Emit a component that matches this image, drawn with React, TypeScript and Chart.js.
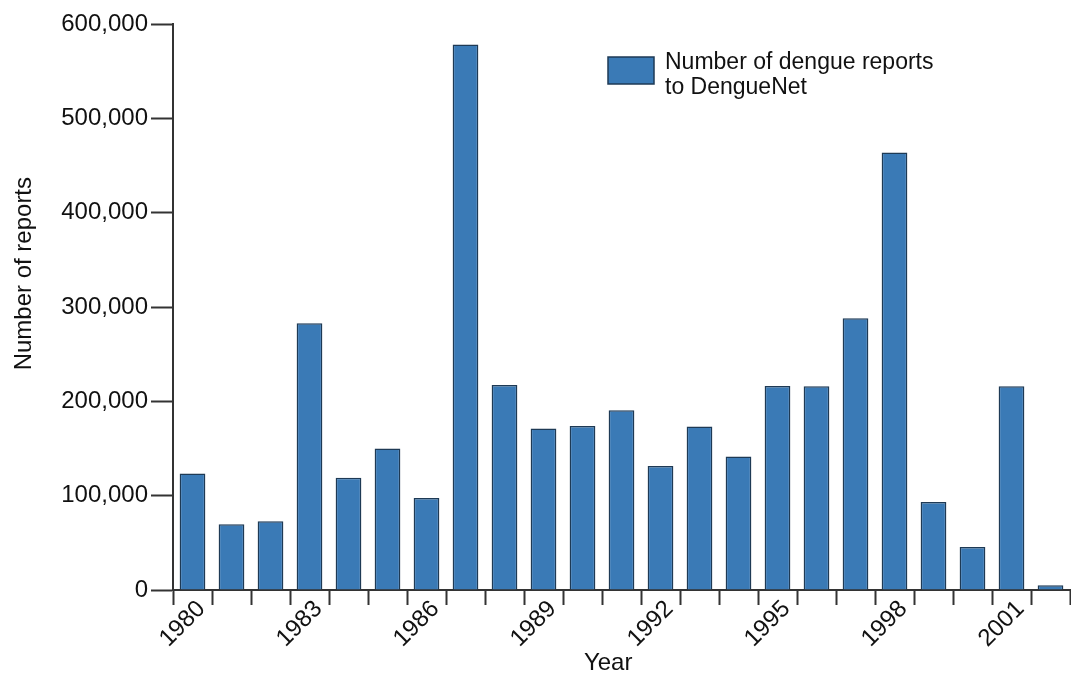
import React, { useEffect, useRef } from "react";
import { Chart, registerables } from "chart.js";

Chart.register(...registerables);

const years: string[] = [
  "1980", "1981", "1982", "1983", "1984", "1985", "1986", "1987", "1988", "1989", "1990",
  "1991", "1992", "1993", "1994", "1995", "1996", "1997", "1998", "1999", "2000", "2001", "2002",
];
const reports: number[] = [
  123400, 69700, 72800, 282700, 119100, 149900, 97500, 578200, 217300, 171100, 173900,
  190500, 131500, 173200, 141400, 216300, 216000, 288000, 463700, 93300, 45600, 216000, 5000,
];
const seriesLabel: string[] = ["Number of dengue reports", "to DengueNet"];
const yTickValues: number[] = [0, 100000, 200000, 300000, 400000, 500000, 600000];

const FONT = "'Liberation Sans', Arial, Helvetica, sans-serif";
const BAR_FILL = "#3a7ab6";
const BAR_BORDER = "#1e3a55";
const AXIS = "#333333";
const TEXT = "#111111";

const legendPlugin = {
  id: "customLegend",
  afterDraw(chart: any) {
    const ctx = chart.ctx;
    ctx.save();
    const bx = 608, by = 57, bw = 46, bh = 27;
    ctx.fillStyle = BAR_FILL;
    ctx.fillRect(bx, by, bw, bh);
    ctx.strokeStyle = BAR_BORDER;
    ctx.lineWidth = 1.5;
    ctx.strokeRect(bx, by, bw, bh);
    ctx.fillStyle = TEXT;
    ctx.font = `23px ${FONT}`;
    ctx.textBaseline = "middle";
    ctx.textAlign = "left";
    seriesLabel.forEach((line, i) => {
      ctx.fillText(line, 665, 63 + i * 25);
    });
    ctx.restore();
  },
};

export default function App() {
  const canvasRef = useRef<HTMLCanvasElement | null>(null);

  useEffect(() => {
    if (!canvasRef.current) return;
    const chart = new Chart(canvasRef.current, {
      type: "bar",
      data: {
        labels: years,
        datasets: [
          {
            label: seriesLabel.join(" "),
            data: reports,
            backgroundColor: BAR_FILL,
            borderColor: BAR_BORDER,
            borderWidth: 1.5,
            barPercentage: 0.66,
            categoryPercentage: 1,
          },
        ],
      },
      options: {
        animation: false,
        responsive: false,
        maintainAspectRatio: false,
        layout: { padding: { top: 24, right: 1, bottom: 0, left: 0 } },
        plugins: {
          legend: { display: false },
          tooltip: { enabled: false },
        },
        scales: {
          x: {
            grid: {
              offset: true,
              drawOnChartArea: false,
              drawTicks: true,
              tickLength: 15,
              tickWidth: 2,
              tickColor: AXIS,
            },
            border: { display: true, color: AXIS, width: 2 },
            ticks: {
              autoSkip: false,
              maxRotation: 45,
              minRotation: 45,
              padding: -10,
              labelOffset: 9,
              color: TEXT,
              font: { family: FONT, size: 24 },
              callback: (_v: any, i: number) => (i % 3 === 0 ? years[i] : ""),
            },
            title: {
              display: true,
              text: "Year    ",
              color: TEXT,
              font: { family: FONT, size: 24 },
              padding: { top: 0, bottom: -4 },
            },
            afterFit: (scale: any) => {
              scale.height = 84;
            },
          },
          y: {
            min: 0,
            max: 600000,
            afterBuildTicks: (scale: any) => {
              scale.ticks = yTickValues.map((v) => ({ value: v }));
            },
            grid: {
              drawOnChartArea: false,
              drawTicks: true,
              tickLength: 22,
              tickWidth: 2,
              tickColor: AXIS,
            },
            border: { display: true, color: AXIS, width: 2 },
            ticks: {
              padding: 3,
              color: TEXT,
              font: { family: FONT, size: 24 },
              callback: (v: any) => Number(v).toLocaleString("en-US"),
            },
            title: {
              display: true,
              text: "          Number of reports",
              color: TEXT,
              font: { family: FONT, size: 24 },
              padding: { top: 10, bottom: 0 },
            },
            afterFit: (scale: any) => {
              scale.width = 173;
            },
          },
        },
      },
      plugins: [legendPlugin],
    });
    return () => chart.destroy();
  }, []);

  return (
    <div style={{ position: "fixed", left: 0, top: 0, width: 1071, height: 674, background: "#fff" }}>
      <canvas ref={canvasRef} width={1071} height={674} style={{ width: 1071, height: 674 }} />
    </div>
  );
}
